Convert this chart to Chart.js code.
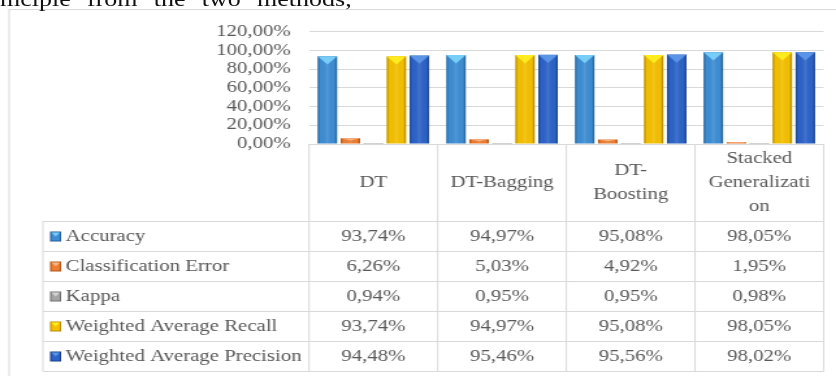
<!DOCTYPE html>
<html>
<head>
<meta charset="utf-8">
<script src="https://cdn.jsdelivr.net/npm/chart.js@4/dist/chart.umd.min.js"></script>
<style>
  html, body { margin: 0; padding: 0; background: #fff; overflow: hidden; width: 836px; height: 376px; }
  #stage { position: absolute; left: 0; top: 0; width: 643px; height: 376px; transform: scaleX(1.3002); transform-origin: 0 0; }
  #chart { position: absolute; left: 0; top: 0; z-index: 1; }
  #caption { position: absolute; z-index: 2; left: 0; top: -11px; font: 20px/20px "Liberation Serif", "DejaVu Serif", serif; color: #111; white-space: nowrap; word-spacing: 7.5px; }
</style>
</head>
<body>
<div id="stage">
  <canvas id="chart" width="643" height="376"></canvas>
  <div id="caption">mciple from the two methods,</div>
</div>
<script>
// Models compared (header lines as they wrap in the table)
const categories = [['DT'], ['DT-Bagging'], ['DT-', 'Boosting'], ['Stacked', 'Generalizati', 'on']];

// Metric names and values (percent)
const seriesNames = ['Accuracy', 'Classification Error', 'Kappa', 'Weighted Average Recall', 'Weighted Average Precision'];
const accuracy = [93.74, 94.97, 95.08, 98.05];
const classificationError = [6.26, 5.03, 4.92, 1.95];
const kappa = [0.94, 0.95, 0.95, 0.98];
const weightedRecall = [93.74, 94.97, 95.08, 98.05];
const weightedPrecision = [94.48, 95.46, 95.56, 98.02];

// Value axis
const yTicks = [0, 20, 40, 60, 80, 100, 120];

const seriesValues = [accuracy, classificationError, kappa, weightedRecall, weightedPrecision];

// Bevelled bar colours: body, top facet, edge
const palette = [
  { base: '#3d8dd4', light: '#78cdf6', dark: '#24609c' },
  { base: '#ee7d31', light: '#f8b583', dark: '#b4561a' },
  { base: '#a5a5a5', light: '#d4d4d4', dark: '#707070' },
  { base: '#f5c000', light: '#ffec1e', dark: '#b98c00' },
  { base: '#2c63c8', light: '#5a94e6', dark: '#1b3f8a' }
];

const TEXT = '#595959';
const RULE = '#d9d9d9';
const FAMILY = '"Liberation Serif", "DejaVu Serif", "Times New Roman", serif';
const FONT = '16px ' + FAMILY;
const fmt = v => v.toFixed(2).replace('.', ',') + '%';

// Table layout (canvas units)
const TABLE = { headBottom: 221, rowH: 30, labelLeft: 33, swatchX: 38.5, swatchW: 8.5, swatchH: 10, textX: 50.5, headLineH: 24 };

const framePlugin = {
  id: 'frame',
  beforeDraw(chart) {
    const ctx = chart.ctx;
    ctx.save();
    ctx.fillStyle = '#fff';
    ctx.fillRect(0, 0, chart.width, chart.height);
    ctx.strokeStyle = RULE;
    ctx.lineWidth = 1;
    ctx.strokeRect(7, 9.5, chart.width + 20, chart.height + 20);
    ctx.restore();
  }
};

const bevelPlugin = {
  id: 'bevel',
  afterDatasetsDraw(chart) {
    const ctx = chart.ctx;
    chart.data.datasets.forEach((ds, di) => {
      const meta = chart.getDatasetMeta(di);
      const pal = palette[di];
      meta.data.forEach(bar => {
        const { x, y, base, width } = bar.getProps(['x', 'y', 'base', 'width'], true);
        const l = x - width / 2, r = x + width / 2, h = base - y;
        if (h <= 0) return;
        ctx.save();
        ctx.beginPath();
        ctx.rect(l, y, width, h);
        ctx.clip();
        const g = ctx.createLinearGradient(l, 0, r, 0);
        g.addColorStop(0, 'rgba(0,0,0,0.30)');
        g.addColorStop(0.16, 'rgba(0,0,0,0)');
        g.addColorStop(0.5, 'rgba(255,255,255,0.10)');
        g.addColorStop(0.84, 'rgba(0,0,0,0)');
        g.addColorStop(1, 'rgba(0,0,0,0.34)');
        ctx.fillStyle = g;
        ctx.fillRect(l, y, width, h);
        const ch = Math.min(width * 0.55, h * 0.45);
        ctx.beginPath();
        ctx.moveTo(l, y);
        ctx.lineTo(r, y);
        ctx.lineTo(x, y + ch);
        ctx.closePath();
        ctx.fillStyle = pal.light;
        ctx.fill();
        ctx.restore();
      });
    });
  }
};

function drawSwatch(ctx, x, y, pal) {
  const w = TABLE.swatchW, h = TABLE.swatchH;
  ctx.fillStyle = pal.dark;
  ctx.fillRect(x, y, w, h);
  ctx.fillStyle = pal.base;
  ctx.fillRect(x + 1, y + 1, w - 2, h - 2);
  ctx.beginPath();
  ctx.moveTo(x + 1, y + 1);
  ctx.lineTo(x + w - 1, y + 1);
  ctx.lineTo(x + w / 2, y + h / 2);
  ctx.closePath();
  ctx.fillStyle = pal.light;
  ctx.fill();
}

const tablePlugin = {
  id: 'dataTable',
  afterDraw(chart) {
    const { ctx, chartArea, scales } = chart;
    const xs = scales.x;
    const n = categories.length;
    const step = xs.getPixelForValue(1) - xs.getPixelForValue(0);
    const bounds = [];
    for (let i = 0; i <= n; i++) bounds.push(xs.getPixelForValue(i) - step / 2);
    const top = chartArea.bottom;
    const headBottom = TABLE.headBottom;
    const bottom = headBottom + seriesNames.length * TABLE.rowH;

    ctx.save();
    ctx.strokeStyle = RULE;
    ctx.lineWidth = 1;
    ctx.beginPath();
    ctx.moveTo(bounds[0], Math.round(top) + 0.5);
    ctx.lineTo(bounds[n], Math.round(top) + 0.5);
    for (let k = 0; k <= seriesNames.length; k++) {
      const yy = headBottom + k * TABLE.rowH + 0.5;
      ctx.moveTo(TABLE.labelLeft, yy);
      ctx.lineTo(bounds[n], yy);
    }
    bounds.forEach(bx => { ctx.moveTo(bx, top); ctx.lineTo(bx, bottom + 0.5); });
    ctx.moveTo(TABLE.labelLeft, headBottom);
    ctx.lineTo(TABLE.labelLeft, bottom + 0.5);
    ctx.stroke();

    ctx.font = FONT;
    ctx.fillStyle = TEXT;
    ctx.textBaseline = 'middle';

    // header
    ctx.textAlign = 'center';
    const headMid = (top + headBottom) / 2;
    categories.forEach((lines, i) => {
      const cx = (bounds[i] + bounds[i + 1]) / 2;
      const y0 = headMid - (lines.length - 1) * TABLE.headLineH / 2;
      lines.forEach((t, j) => ctx.fillText(t, cx, y0 + j * TABLE.headLineH));
    });

    // rows
    seriesNames.forEach((name, r) => {
      const cy = headBottom + r * TABLE.rowH + TABLE.rowH / 2 + 0.5;
      drawSwatch(ctx, TABLE.swatchX, cy - TABLE.swatchH / 2, palette[r]);
      ctx.fillStyle = TEXT;
      ctx.textAlign = 'left';
      ctx.fillText(name, TABLE.textX, cy);
      ctx.textAlign = 'center';
      seriesValues[r].forEach((v, i) => {
        ctx.fillText(fmt(v), (bounds[i] + bounds[i + 1]) / 2, cy);
      });
    });
    ctx.restore();
  }
};

function build() {
  new Chart(document.getElementById('chart'), {
    type: 'bar',
    data: {
      labels: categories,
      datasets: seriesNames.map((name, i) => ({
        label: name,
        data: seriesValues[i],
        backgroundColor: palette[i].base,
        borderWidth: 0
      }))
    },
    options: {
      responsive: false,
      animation: false,
      devicePixelRatio: 1,
      layout: { padding: { left: 0, right: 9.5, top: 31.7, bottom: 232 } },
      datasets: { bar: { categoryPercentage: 0.894, barPercentage: 0.85 } },
      plugins: { legend: { display: false }, tooltip: { enabled: false } },
      scales: {
        x: { display: false },
        y: {
          min: yTicks[0],
          max: yTicks[yTicks.length - 1],
          afterBuildTicks(scale) { scale.ticks = yTicks.map(v => ({ value: v })); },
          afterFit(scale) { scale.width = 237.7; },
          ticks: {
            autoSkip: false,
            padding: 14,
            color: TEXT,
            font: { family: FAMILY, size: 16 },
            callback: v => fmt(v)
          },
          grid: { color: RULE, drawTicks: false },
          border: { display: false }
        }
      }
    },
    plugins: [framePlugin, bevelPlugin, tablePlugin]
  });
}

Promise.all([
  document.fonts.load('16px "Liberation Serif"'),
  document.fonts.load('16px "DejaVu Serif"')
]).catch(() => {}).then(build);
</script>
</body>
</html>
